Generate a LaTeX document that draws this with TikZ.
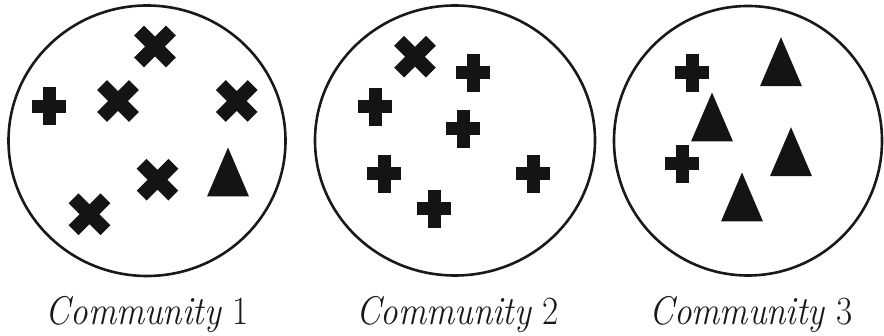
\documentclass[tikz,border=0pt]{standalone}
\usepackage{fontspec}
\usetikzlibrary{shapes.geometric}
\newcommand{\commtext}[1]{\scalebox{0.88}[1]{\fontsize{40}{44}\selectfont #1}}
\tikzset{
  community/.style={ellipse, draw=black!90, line width=2.6pt, inner sep=0pt},
  commlabel/.style={anchor=base, inner sep=0pt, text=black!90},
  xmark/.pic={\draw[line width=14pt, black!92] (-15.9,-15.9) -- (15.9,15.9) (-15.9,15.9) -- (15.9,-15.9);},
  plusmark/.pic={\draw[line width=13pt, black!92] (-17,0) -- (17,0) (0,-19) -- (0,19);},
  trimark/.pic={\fill[black!92] (0,-24.5) -- (21,24.5) -- (-21,24.5) -- cycle;}
}
\begin{document}
\begin{tikzpicture}[x=1pt, y=-1pt]
\useasboundingbox (0,0) rectangle (884,336);
% communities
\node[community, minimum width=277pt, minimum height=270.5pt] (c1) at (147,140.75) {};
\node[community, minimum width=280pt, minimum height=270pt] (c2) at (455,140.5) {};
\node[community, minimum width=268pt, minimum height=269.5pt] (c3) at (748,140.75) {};
% community 1
\pic at (155,46.5) {xmark};
\pic at (49.3,106.3) {plusmark};
\pic at (118,101) {xmark};
\pic at (236.7,101) {xmark};
\pic at (157.5,179.7) {xmark};
\pic at (89.5,214.3) {xmark};
\pic at (228,172) {trimark};
% community 2
\pic at (415,56.7) {xmark};
\pic at (473.3,73) {plusmark};
\pic at (375,106.7) {plusmark};
\pic at (463.3,129) {plusmark};
\pic at (384.3,173.7) {plusmark};
\pic at (533.3,173.7) {plusmark};
\pic at (434,208.7) {plusmark};
% community 3
\pic at (692.2,73) {plusmark};
\pic at (682,163.7) {plusmark};
\pic at (781,61.7) {trimark};
\pic at (712,117) {trimark};
\pic at (791,151.7) {trimark};
\pic at (742,197) {trimark};
% labels
\node[commlabel] (l1) at (147.4,325) {\commtext{\textit{Community} 1}};
\node[commlabel] (l2) at (457.5,325) {\commtext{\textit{Community} 2}};
\node[commlabel] (l3) at (751,325) {\commtext{\textit{Community} 3}};
\end{tikzpicture}
\end{document}
